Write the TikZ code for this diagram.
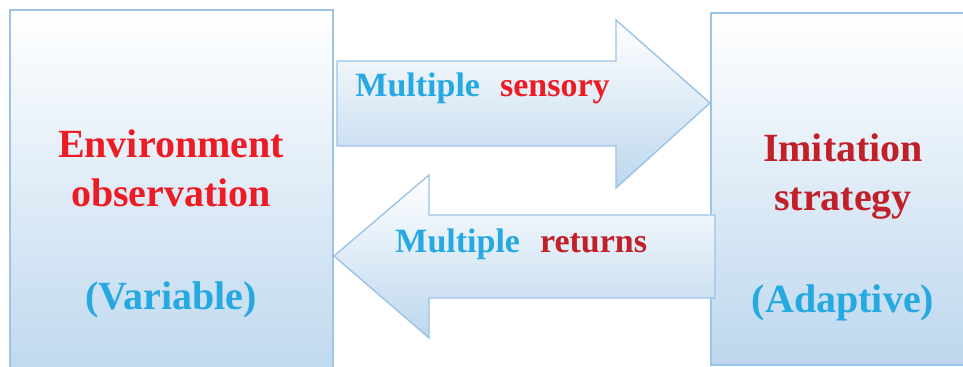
\documentclass[tikz,border=0pt]{standalone}
\usepackage{fontspec}
\setmainfont{Liberation Serif}
\definecolor{boxblue}{RGB}{189,215,238}
\definecolor{edgeblue}{RGB}{157,195,230}
\definecolor{hotred}{RGB}{237,28,36}
\definecolor{darkred}{RGB}{193,32,40}
\definecolor{skyblue}{RGB}{38,168,224}
\tikzset{
  panel/.style={draw=edgeblue,line width=0.7pt,top color=white,bottom color=boxblue},
  bigtxt/.style={anchor=base,inner sep=0pt,font=\fontsize{20}{24}\selectfont\bfseries},
  armtxt/.style={anchor=base west,inner sep=0pt,font=\fontsize{17}{20}\selectfont\bfseries}
}
\begin{document}
\begin{tikzpicture}[x=0.5pt,y=-0.5pt]
\useasboundingbox (0,0) rectangle (963,367);
\clip (0,0) rectangle (963,367);
\fill[white] (0,0) rectangle (963,367);
% the two panels
\shade[panel] (10,10) rectangle (333,385);
\shade[panel] (711,13) rectangle (980,365);
% upper arrow, pointing right
\shade[panel] (337,61) -- (616,61) -- (616,20) -- (710,103) -- (616,188)
  -- (616,146) -- (337,146) -- cycle;
% lower arrow, pointing left
\shade[panel] (715,215) -- (429,215) -- (429,175) -- (334,256) -- (429,338)
  -- (429,298) -- (715,298) -- cycle;
\node[bigtxt,text=hotred] (envA) at (171,158) {Environment};
\node[bigtxt,text=hotred] (envB) at (171,207) {observation};
\node[bigtxt,text=skyblue] (var) at (171,310) {(Variable)};
\node[bigtxt,text=darkred] (imiA) at (843,162) {Imitation};
\node[bigtxt,text=darkred] (imiB) at (843,211) {strategy};
\node[bigtxt,text=skyblue] (adp) at (843,313) {(Adaptive)};
\node[armtxt] (sens) at (355,97) {\textcolor{skyblue}{Multiple}\hspace{10pt}\textcolor{hotred}{sensory}};
\node[armtxt] (ret) at (395,253) {\textcolor{skyblue}{Multiple}\hspace{10pt}\textcolor{darkred}{returns}};
\end{tikzpicture}
\end{document}
